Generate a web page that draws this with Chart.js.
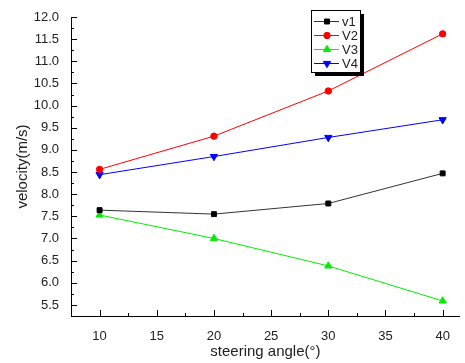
<!DOCTYPE html>
<html>
<head>
<meta charset="utf-8">
<script src="https://cdn.jsdelivr.net/npm/chart.js@4/dist/chart.umd.min.js"></script>
<style>
  body { margin: 0; background: #fff; }
  #wrap { width: 465px; height: 363px; }
</style>
</head>
<body>
<div id="wrap"><canvas id="chart"></canvas></div>
<script>
// data
const angles = [10, 20, 30, 40];
const v1 = [7.64, 7.55, 7.79, 8.47];
const v2 = [8.56, 9.31, 10.33, 11.62];
const v3 = [7.53, 7.00, 6.38, 5.59];
const v4 = [8.44, 8.85, 9.28, 9.68];
const seriesNames = ['v1', 'V2', 'V3', 'V4'];
const xTicks = [10, 15, 20, 25, 30, 35, 40];
const yTicks = [5.5, 6.0, 6.5, 7.0, 7.5, 8.0, 8.5, 9.0, 9.5, 10.0, 10.5, 11.0, 11.5, 12.0];

const FONT = 'Liberation Sans, Arial, sans-serif';

function pts(vals) {
    return angles.map((a, i) => ({ x: a, y: vals[i] }));
}

// inward ticks (major + minor) on both axes
const axisTicks = {
    id: 'axisTicks',
    afterDraw(chart) {
        const ctx = chart.ctx;
        const xs = chart.scales.x, ys = chart.scales.y;
        const a = chart.chartArea;
        ctx.save();
        ctx.strokeStyle = '#000';
        ctx.lineWidth = 1;
        ctx.beginPath();
        for (let v = 7.5; v <= 41.5; v += 2.5) {
            const px = Math.round(xs.getPixelForValue(v)) + 0.5;
            const len = (v % 5 === 0) ? 6 : 3;
            ctx.moveTo(px, a.bottom);
            ctx.lineTo(px, a.bottom - len);
        }
        for (let v = 5.25; v <= 12.001; v += 0.25) {
            const py = Math.round(ys.getPixelForValue(v)) + 0.5;
            const len = (Math.abs(v * 2 - Math.round(v * 2)) < 0.01) ? 6 : 3;
            ctx.moveTo(a.left, py);
            ctx.lineTo(a.left + len, py);
        }
        ctx.stroke();
        ctx.restore();
    }
};

// legend box with line + marker samples
const boxLegend = {
    id: 'boxLegend',
    afterDraw(chart) {
        const ctx = chart.ctx;
        const x0 = 311, y0 = 10, w = 49, h = 62;
        ctx.save();
        ctx.fillStyle = '#000';
        ctx.fillRect(x0 + 4, y0 + 4, w, h);
        ctx.fillStyle = '#fff';
        ctx.fillRect(x0, y0, w, h);
        ctx.strokeStyle = '#000';
        ctx.lineWidth = 1;
        ctx.strokeRect(x0 + 0.5, y0 + 0.5, w, h);
        ctx.font = '13px ' + FONT;
        ctx.textBaseline = 'middle';
        chart.data.datasets.forEach((ds, i) => {
            const cy = y0 + 11 + i * 14;
            ctx.strokeStyle = ds.borderColor;
            ctx.lineWidth = 1;
            ctx.beginPath();
            ctx.moveTo(x0 + 3, cy + 0.5);
            ctx.lineTo(x0 + 28, cy + 0.5);
            ctx.stroke();
            ctx.fillStyle = ds.pointBackgroundColor;
            ctx.strokeStyle = ds.pointBackgroundColor;
            Chart.helpers.drawPoint(ctx, {
                pointStyle: ds.pointStyle,
                rotation: ds.pointRotation || 0,
                radius: ds.pointRadius,
                borderWidth: 1
            }, x0 + 16, cy + 0.5);
            ctx.fillStyle = '#222';
            ctx.fillText(seriesNames[i], x0 + 31, cy + 1);
        });
        ctx.restore();
    }
};

function ds(label, vals, color, lineColor, style, radius, rot) {
    return {
        label: label,
        data: pts(vals),
        borderColor: lineColor,
        borderWidth: 1,
        pointStyle: style,
        pointRadius: radius,
        pointRotation: rot || 0,
        pointBackgroundColor: color,
        pointBorderColor: color,
        pointBorderWidth: 1,
        tension: 0
    };
}

new Chart(document.getElementById('chart'), {
    type: 'line',
    data: {
        datasets: [
            ds('v1', v1, '#000000', '#333333', 'rect', 3.5),
            ds('V2', v2, '#ff0000', '#ff0000', 'circle', 3.2),
            ds('V3', v3, '#00ee00', '#00ee00', 'triangle', 4.2),
            ds('V4', v4, '#0000ff', '#0000ff', 'triangle', 4.2, 180)
        ]
    },
    options: {
        responsive: true,
        maintainAspectRatio: false,
        animation: false,
        layout: { padding: { left: 0, right: 5, top: 17, bottom: 0 } },
        plugins: {
            legend: { display: false },
            tooltip: { enabled: false }
        },
        scales: {
            x: {
                type: 'linear',
                min: 7.5,
                max: 41.5,
                afterBuildTicks: s => { s.ticks = xTicks.map(v => ({ value: v })); },
                afterFit: s => { s.height = 47; },
                grid: { display: false },
                border: { display: true, color: '#000', width: 1 },
                ticks: { color: '#222', font: { family: FONT, size: 13 }, padding: 5, maxRotation: 0 },
                title: { display: true, text: 'steering angle(°)', color: '#222', font: { family: FONT, size: 15 }, padding: { top: 6, bottom: 2 } }
            },
            y: {
                min: 5.25,
                max: 12.0,
                afterBuildTicks: s => { s.ticks = yTicks.map(v => ({ value: v })); },
                afterFit: s => { s.width = 71; },
                grid: { display: false },
                border: { display: true, color: '#000', width: 1 },
                ticks: { color: '#222', font: { family: FONT, size: 13 }, padding: 4, callback: v => v.toFixed(1) },
                title: { display: true, text: 'velocity(m/s)', color: '#222', font: { family: FONT, size: 15 }, padding: { top: 14, bottom: 4 } }
            }
        }
    },
    plugins: [axisTicks, boxLegend]
});
</script>
</body>
</html>
